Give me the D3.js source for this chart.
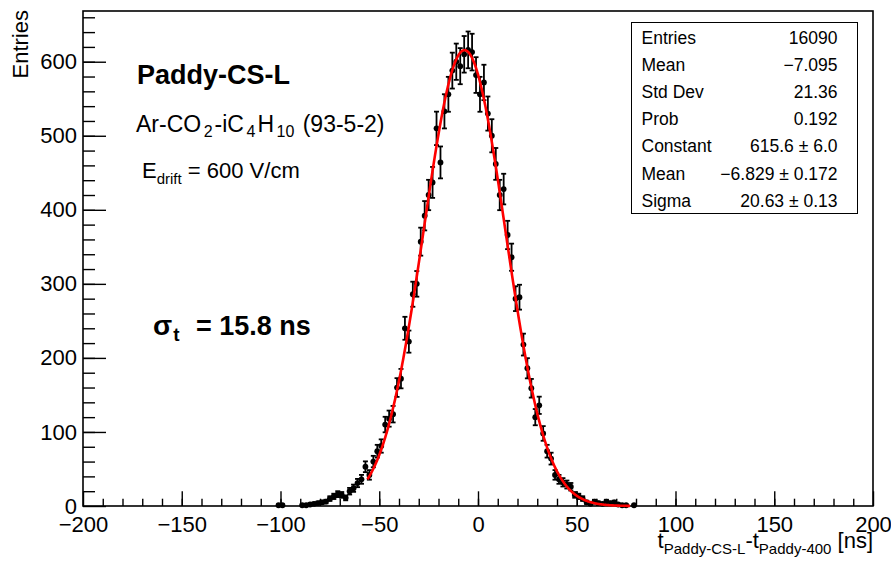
<!DOCTYPE html>
<html>
<head>
<meta charset="utf-8">
<script src="https://cdn.jsdelivr.net/npm/d3@7"></script>
<style>
  body { margin: 0; background: #fff; }
  text { font-family: 'Liberation Sans', Arial, Helvetica, sans-serif; fill: #000; }
</style>
</head>
<body>
<div id="chart"></div>
<script>
// histogram bins (2 ns wide), only non-empty bins are drawn
let binCenters = [-101, -99, -89, -87, -85, -83, -81, -79, -77, -75, -73, -71,
  -69, -67, -65, -63, -61, -59, -57, -55, -53, -51,
  -49, -47, -45, -43, -41, -39, -37, -35, -33, -31,
  -29, -27, -25, -23, -21, -19, -17, -15, -13, -11,
  -9, -7, -5, -3, -1,
  1, 3, 5, 7, 9, 11, 13, 15, 17, 19,
  21, 23, 25, 27, 29, 31, 33, 35, 37, 39,
  41, 43, 45, 47, 49, 51, 53, 55, 57, 59,
  61, 63, 65, 67, 69, 71, 73, 75, 79]
let counts = [1, 1, 1, 1, 2, 3, 4, 5, 6, 10, 13, 16,
  15, 11, 20, 24, 31, 36, 53, 42, 60, 74,
  81, 110, 118, 124, 160, 172, 240, 222, 286, 300,
  357, 392, 420, 437, 510, 464, 533, 556, 588, 600,
  594, 610, 616, 613, 582,
  556, 572, 530, 500, 462, 420, 428, 366, 336, 280,
  282, 218, 186, 159, 120, 136, 98, 74, 64, 42,
  36, 32, 29, 26, 15, 13, 10, 5, 3, 6,
  4, 3, 6, 4, 5, 2, 1, 1, 1]
let binWidth = 2

// gaussian fit result
let fitConstant = 615.6
let fitMean = -6.829
let fitSigma = 20.63
let fitRange = [-56, 77]

let xMajorTicks = [-200, -150, -100, -50, 0, 50, 100, 150, 200]
let yMajorTicks = [0, 100, 200, 300, 400, 500, 600]

let statLabels = ['Entries', 'Mean', 'Std Dev', 'Prob', 'Constant', 'Mean', 'Sigma']
let statValues = ['16090', '\u22127.095', '21.36', '0.192', '615.6 \u00b1 6.0', '\u22126.829 \u00b1 0.172', '20.63 \u00b1 0.13']

let margin = { top: 11, left: 83, right: 18, bottom: 55 }
let width = 891 - margin.left - margin.right
let height = 561 - margin.top - margin.bottom

let root = d3
  .select('#chart')
  .append('svg')
  .attr('width', width + margin.left + margin.right)
  .attr('height', height + margin.top + margin.bottom)

root.append('rect')
  .attr('width', 891)
  .attr('height', 561)
  .attr('fill', '#fff')

let svg = root
  .append('g')
  .attr('transform', 'translate(' + margin.left + ',' + margin.top + ')')

let x = d3.scaleLinear().domain([-200, 200]).range([0, width])
let y = d3.scaleLinear().domain([0, 668.5]).range([height, 0])

// axes (ticks point inward like ROOT)
let xMinor = svg.append('g')
  .attr('transform', 'translate(0,' + height + ')')
  .call(d3.axisBottom(x).tickValues(d3.range(-190, 200, 10)).tickSize(-7.3).tickSizeOuter(0).tickFormat(''))
let xMajor = svg.append('g')
  .attr('class', 'x-axis')
  .attr('transform', 'translate(0,' + height + ')')
  .call(d3.axisBottom(x).tickValues(xMajorTicks).tickSize(-14.7).tickSizeOuter(0).tickPadding(10))

let yMinor = svg.append('g')
  .call(d3.axisLeft(y).tickValues(d3.range(20, 668, 20)).tickSize(-12).tickSizeOuter(0).tickFormat(''))
let yMajor = svg.append('g')
  .attr('class', 'y-axis')
  .call(d3.axisLeft(y).tickValues(yMajorTicks).tickSize(-23).tickSizeOuter(0).tickPadding(6))

svg.selectAll('.domain').remove()
svg.selectAll('.tick line').attr('stroke', '#000').attr('stroke-width', 1.4)
svg.selectAll('.tick text')
  .attr('font-size', 22)
  .attr('font-family', "'Liberation Sans', Arial, Helvetica, sans-serif")
  .attr('fill', '#000')

// frame
svg.append('rect')
  .attr('width', width)
  .attr('height', height)
  .attr('fill', 'none')
  .attr('stroke', '#000')
  .attr('stroke-width', 1.6)

// histogram points with errors
let bins = binCenters.map((c, i) => ({ x: c, n: counts[i], e: Math.sqrt(counts[i]) }))

let pts = svg.append('g')
  .selectAll('.bin')
  .data(bins)
  .enter()
  .append('g')
  .attr('class', 'bin')

pts.append('line')
  .attr('x1', d => x(d.x))
  .attr('x2', d => x(d.x))
  .attr('y1', d => y(d.n - d.e))
  .attr('y2', d => y(d.n + d.e))
  .attr('stroke', '#000')
  .attr('stroke-width', 1.8)

pts.append('line')
  .attr('x1', d => x(d.x - binWidth / 2))
  .attr('x2', d => x(d.x + binWidth / 2))
  .attr('y1', d => y(d.n))
  .attr('y2', d => y(d.n))
  .attr('stroke', '#000')
  .attr('stroke-width', 1.8)

pts.append('line')
  .attr('x1', d => x(d.x) - 2.5)
  .attr('x2', d => x(d.x) + 2.5)
  .attr('y1', d => y(d.n + d.e))
  .attr('y2', d => y(d.n + d.e))
  .attr('stroke', '#000')
  .attr('stroke-width', 1.8)

pts.append('line')
  .attr('x1', d => x(d.x) - 2.5)
  .attr('x2', d => x(d.x) + 2.5)
  .attr('y1', d => y(d.n - d.e))
  .attr('y2', d => y(d.n - d.e))
  .attr('stroke', '#000')
  .attr('stroke-width', 1.8)

pts.append('circle')
  .attr('cx', d => x(d.x))
  .attr('cy', d => y(d.n))
  .attr('r', 2.9)
  .attr('fill', '#000')

// fit curve
let gauss = t => fitConstant * Math.exp(-0.5 * Math.pow((t - fitMean) / fitSigma, 2))
let fitLine = d3.line()
  .x(t => x(t))
  .y(t => y(gauss(t)))

svg.append('path')
  .datum(d3.range(fitRange[0], fitRange[1] + 0.01, 0.25))
  .attr('d', fitLine)
  .attr('fill', 'none')
  .attr('stroke', '#ff0000')
  .attr('stroke-width', 2.6)

// axis titles
root.append('text')
  .attr('transform', 'translate(28,10) rotate(-90)')
  .attr('text-anchor', 'end')
  .attr('font-size', 22)
  .text('Entries')

let xTitle = root.append('text')
  .attr('x', 873)
  .attr('y', 548)
  .attr('text-anchor', 'end')
  .attr('font-size', 22)
xTitle.append('tspan').text('t')
xTitle.append('tspan').attr('dy', 6).attr('font-size', 15).text('Paddy-CS-L')
xTitle.append('tspan').attr('dy', -6).text('-t')
xTitle.append('tspan').attr('dy', 6).attr('font-size', 15).text('Paddy-400')
xTitle.append('tspan').attr('dy', -6).text(' [ns]')

// labels
root.append('text')
  .attr('x', 137)
  .attr('y', 84)
  .attr('font-size', 27)
  .attr('font-weight', 'bold')
  .text('Paddy-CS-L')

let gas = root.append('text')
  .attr('x', 136)
  .attr('y', 132)
  .attr('font-size', 23)
gas.append('tspan').text('Ar-CO')
gas.append('tspan').attr('dx', 2.5).attr('dy', 5).attr('font-size', 16).text('2')
gas.append('tspan').attr('dx', 2).attr('dy', -5).text('-iC')
gas.append('tspan').attr('dx', 2.5).attr('dy', 5).attr('font-size', 16).text('4')
gas.append('tspan').attr('dx', 2).attr('dy', -5).text('H')
gas.append('tspan').attr('dx', 2.5).attr('dy', 5).attr('font-size', 16).text('10')
gas.append('tspan').attr('dx', 2).attr('dy', -5).text(' (93-5-2)')

let field = root.append('text')
  .attr('x', 142)
  .attr('y', 178)
  .attr('font-size', 22)
field.append('tspan').text('E')
field.append('tspan').attr('dy', 6).attr('font-size', 15).text('drift')
field.append('tspan').attr('dy', -6).text(' = 600 V/cm')

let res = root.append('text')
  .attr('x', 153)
  .attr('y', 335)
  .attr('font-size', 27)
  .attr('font-weight', 'bold')
res.append('tspan').attr('font-size', 28).text('\u03c3')
res.append('tspan').attr('dx', 1).attr('dy', 6).attr('font-size', 19).text('t')
res.append('tspan').attr('dy', -6).attr('x', 196).text('= 15.8 ns')

// stats box
let stats = root.append('g')
stats.append('rect')
  .attr('x', 631.5)
  .attr('y', 22.5)
  .attr('width', 226)
  .attr('height', 191)
  .attr('fill', '#fff')
  .attr('stroke', '#000')
  .attr('stroke-width', 1)

stats.selectAll('.slabel')
  .data(statLabels)
  .enter()
  .append('text')
  .attr('class', 'slabel')
  .attr('x', 641.5)
  .attr('y', (d, i) => 43.5 + i * 27.2)
  .attr('font-size', 17.5)
  .text(d => d)

stats.selectAll('.svalue')
  .data(statValues)
  .enter()
  .append('text')
  .attr('class', 'svalue')
  .attr('x', 837.5)
  .attr('y', (d, i) => 43.5 + i * 27.2)
  .attr('text-anchor', 'end')
  .attr('font-size', 17.5)
  .text(d => d)
</script>
</body>
</html>
